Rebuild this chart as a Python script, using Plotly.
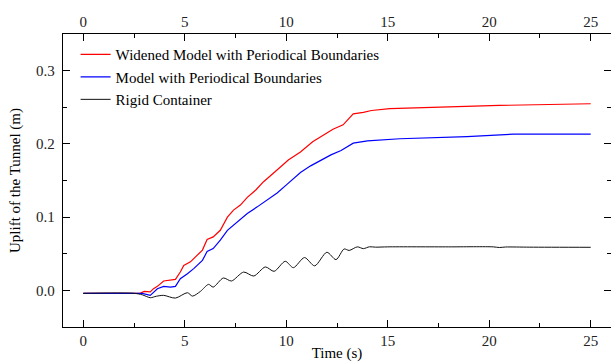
import plotly.graph_objects as go

# ---- data ----
t_widened = [0, 2.8, 3.0, 3.3, 3.46, 3.65, 3.96, 4.3, 4.54, 4.78, 4.95, 5.28, 5.6, 5.87,
             6.1, 6.4, 6.75, 7.1, 7.4, 7.74, 8.08, 8.5, 8.87, 9.3, 9.7, 10.1, 10.7, 11.3,
             11.8, 12.3, 12.8, 13.3, 13.8, 14.2, 15.1, 17.2, 20.5, 25]
v_widened = [-0.004, -0.004, -0.0014, -0.002, 0.0023, 0.0055, 0.0128, 0.0137, 0.015, 0.025,
             0.034, 0.039, 0.048, 0.055, 0.0694, 0.073, 0.082, 0.100, 0.1096, 0.1164, 0.127,
             0.137, 0.148, 0.158, 0.168, 0.178, 0.189, 0.203, 0.212, 0.220, 0.226, 0.241,
             0.243, 0.2456, 0.248, 0.250, 0.2525, 0.2548]

t_periodic = [0, 2.9, 3.3, 3.46, 3.65, 3.96, 4.3, 4.54, 4.78, 5.13, 5.44, 5.87, 6.1, 6.4,
              6.75, 7.1, 7.6, 8.08, 8.57, 9.06, 9.55, 10.05, 10.7, 11.2, 11.7, 12.2, 12.7,
              13.3, 14.0, 15.6, 18.9, 21.2, 25]
v_periodic = [-0.004, -0.004, -0.0068, -0.0025, 0.0023, 0.0055, 0.0045, 0.0055, 0.016,
              0.0228, 0.0297, 0.041, 0.053, 0.057, 0.0685, 0.082, 0.0936, 0.105, 0.114,
              0.124, 0.133, 0.145, 0.161, 0.170, 0.178, 0.185, 0.191, 0.201, 0.204, 0.207,
              0.210, 0.2133, 0.2133]

t_rigid = [0, 2.5, 2.9, 3.3, 3.6, 3.96, 4.54, 5.13, 5.38, 5.77, 6.17, 6.4, 6.9, 7.3, 7.9,
           8.4, 8.97, 9.4, 9.95, 10.35, 10.9, 11.4, 12.0, 12.45, 12.85, 13.1, 13.5, 13.8,
           14.1, 14.4, 15, 18, 20.2, 20.5, 20.8, 22, 25]
v_rigid = [-0.004, -0.004, -0.006, -0.010, -0.008, -0.0068, -0.0105, -0.0032, -0.0078,
           -0.0014, 0.0082, 0.0045, 0.0169, 0.0128, 0.025, 0.0196, 0.032, 0.026, 0.0397,
           0.031, 0.0448, 0.0335, 0.052, 0.042, 0.0565, 0.0545, 0.0594, 0.0570, 0.0595,
           0.059, 0.0594, 0.0594, 0.0594, 0.0585, 0.0592, 0.0590, 0.0588]

names = ["Widened Model with Periodical Boundaries",
         "Model with Periodical Boundaries",
         "Rigid Container"]
x_tick_vals = [0, 5, 10, 15, 20, 25]
y_tick_vals = [0.0, 0.1, 0.2, 0.3]

FONT = "Liberation Serif, Times New Roman, serif"

fig = go.Figure()
fig.add_trace(go.Scatter(x=t_widened, y=v_widened, mode="lines", name=names[0],
                         line=dict(color="#ff0000", width=1.2)))
fig.add_trace(go.Scatter(x=t_periodic, y=v_periodic, mode="lines", name=names[1],
                         line=dict(color="#0000ff", width=1.2)))
fig.add_trace(go.Scatter(x=t_rigid, y=v_rigid, mode="lines", name=names[2],
                         line=dict(color="#111111", width=1.0, shape="spline", smoothing=0.8)))
# invisible helpers so the mirrored top / right axes get drawn
fig.add_trace(go.Scatter(x=[t_rigid[0]], y=[v_rigid[0]], xaxis="x2", yaxis="y",
                         mode="markers", marker=dict(opacity=0), showlegend=False,
                         hoverinfo="skip"))
fig.add_trace(go.Scatter(x=[t_rigid[0]], y=[v_rigid[0]], xaxis="x", yaxis="y2",
                         mode="markers", marker=dict(opacity=0), showlegend=False,
                         hoverinfo="skip"))

xr = [-1, 26]
yr = [-0.05, 0.35]
common_x = dict(range=xr, tickmode="array", tickvals=x_tick_vals, ticks="inside",
                ticklen=7, tickwidth=1.3, tickcolor="black",
                minor=dict(tickmode="array", tickvals=[2.5, 7.5, 12.5, 17.5, 22.5],
                           ticks="inside", ticklen=4, tickwidth=1.2, tickcolor="black"),
                showgrid=False, zeroline=False, showline=True, linecolor="black", linewidth=1.4,
                tickfont=dict(family=FONT, size=15, color="#222"))
common_y = dict(range=yr, tickmode="array", tickvals=y_tick_vals, ticks="inside",
                ticklen=7, tickwidth=1.3, tickcolor="black",
                minor=dict(tickmode="array", tickvals=[0.05, 0.15, 0.25],
                           ticks="inside", ticklen=4, tickwidth=1.2, tickcolor="black"),
                showgrid=False, zeroline=False,
                tickfont=dict(family=FONT, size=15, color="#222"))

fig.update_layout(
    width=611, height=362,
    margin=dict(l=63, r=0, t=34, b=35),
    paper_bgcolor="white", plot_bgcolor="white",
    font=dict(family=FONT, size=15, color="black"),
    xaxis=dict(**common_x, title=dict(text="Time (s)", standoff=2,
                                      font=dict(family=FONT, size=15, color="black"))),
    xaxis2=dict(**common_x, overlaying="x", side="top", anchor="y"),
    yaxis=dict(**common_y, tickformat=".1f", showline=True, linecolor="black", linewidth=1.4,
               ticklabelstandoff=4,
               title=dict(text="Uplift of the Tunnel (m)", standoff=11,
                          font=dict(family=FONT, size=15, color="black"))),
    yaxis2=dict(**common_y, overlaying="y", side="right", anchor="x", showticklabels=False,
                showline=False),
    legend=dict(x=0.023, y=0.986, xanchor="left", yanchor="top", bgcolor="rgba(0,0,0,0)",
                font=dict(family=FONT, size=15, color="black"), itemwidth=30,
                tracegroupgap=0),
    showlegend=True,
)

fig.write_html("out.html", config={"displayModeBar": False},
               post_script="document.body.style.margin='0';document.body.style.overflow='hidden';")
